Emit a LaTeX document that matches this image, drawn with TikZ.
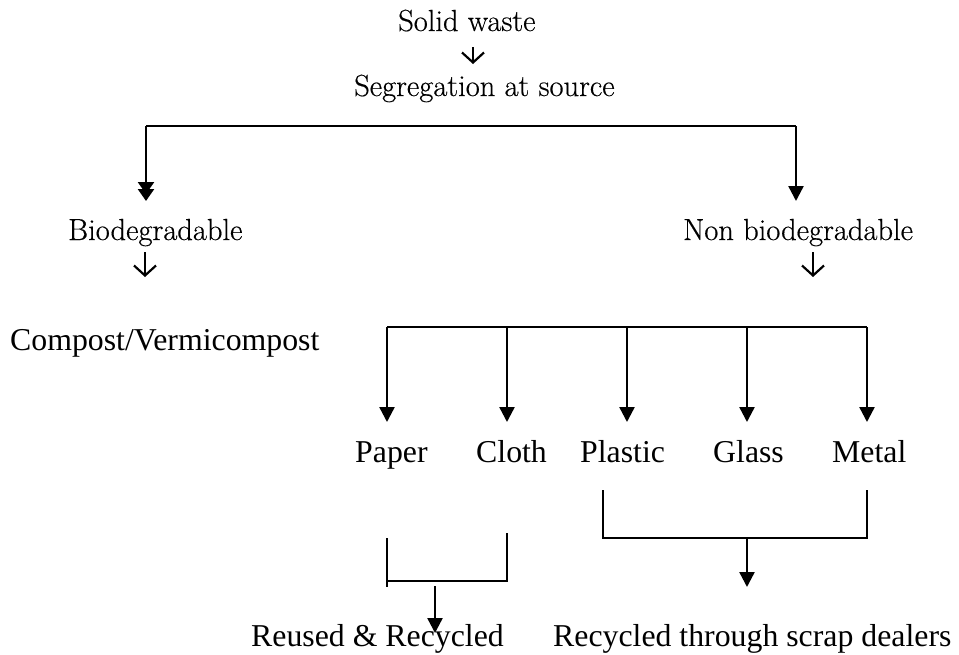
\documentclass[tikz,border=0pt]{standalone}
\usepackage{fontspec}
\newfontfamily\tnr{Liberation Serif}
\newfontfamily\garfont[FakeBold=0.4]{Latin Modern Roman}
\usetikzlibrary{arrows.meta}
\begin{document}
\begin{tikzpicture}[x=1pt,y=-1pt,
  gar/.style={font=\garfont\fontsize{30.5}{32}\selectfont, inner sep=0pt, anchor=base west},
  tms/.style={font=\tnr\fontsize{31.8}{33}\selectfont, inner sep=0pt, anchor=base west},
  ln/.style={line width=2.3pt},
  arr/.style={line width=2.4pt,-{Triangle[width=15pt,length=15pt]}},
  darr/.style={line width=2.4pt,-{Triangle[width=16pt,length=12pt,sep=-5pt]Triangle[width=16pt,length=12pt]}},
  sarr/.style={line width=2.2pt,-{Straight Barb[width=22pt,length=10pt]}}]
\useasboundingbox (0,0) rectangle (959,654);
% texts
\node[gar] (sw) at (398,31) {Solid waste};
\node[gar] (seg) at (354,96) {Segregation at source};
\node[gar] (bio) at (68,240) {Biodegradable};
\node[gar] (nbio) at (683,240) {Non biodegradable};
\node[tms] (comp) at (10,350) {Compost/Vermicompost};
\node[tms] (paper) at (355,462) {Paper};
\node[tms] (cloth) at (476,462) {Cloth};
\node[tms] (plastic) at (580,462) {Plastic};
\node[tms] (glass) at (713,462) {Glass};
\node[tms] (metal) at (832,462) {Metal};
\node[tms] (reuse) at (251,646) {Reused \& Recycled};
\node[tms] (scrap) at (553,646) {Recycled through scrap dealers};
% small glyph-like arrows
\coordinate (a1s) at (473,47);  \coordinate (a1e) at (473,64);
\coordinate (a2s) at (145,252); \coordinate (a2e) at (145,277);
\coordinate (a3s) at (813,252); \coordinate (a3e) at (813,277);
\draw[sarr] (a1s) -- (a1e);
\draw[sarr] (a2s) -- (a2e);
\draw[sarr] (a3s) -- (a3e);
% first split
\coordinate (t1) at (146,126); \coordinate (t2) at (796,126);
\coordinate (bt) at (146,201); \coordinate (nt) at (796,201);
\draw[ln] (t1) -- (t2);
\draw[darr] (t1) -- (bt);
\draw[arr] (t2) -- (nt);
% five-way split
\coordinate (f1) at (387,327); \coordinate (f2) at (507,327); \coordinate (f3) at (627,327);
\coordinate (f4) at (747,327); \coordinate (f5) at (867,327);
\draw[ln] (f1) -- (f5);
\foreach \c in {f1,f2,f3,f4,f5} \draw[arr] (\c) -- ++(0,95);
% left bracket
\coordinate (l1) at (387,538); \coordinate (l2) at (387,587);
\coordinate (l3) at (507,533); \coordinate (l4) at (507,581); \coordinate (l5) at (387,581);
\coordinate (la) at (435,586); \coordinate (lb) at (435,633);
\draw[ln] (l1) -- (l2);
\draw[ln] (l3) -- (l4) -- (l5);
\draw[arr] (la) -- (lb);
% right bracket
\coordinate (r1) at (603,490); \coordinate (r2) at (603,538);
\coordinate (r3) at (867,538); \coordinate (r4) at (867,490);
\coordinate (ra) at (747,538); \coordinate (rb) at (747,587);
\draw[ln] (r1) -- (r2) -- (r3) -- (r4);
\draw[arr] (ra) -- (rb);
\end{tikzpicture}
\end{document}
